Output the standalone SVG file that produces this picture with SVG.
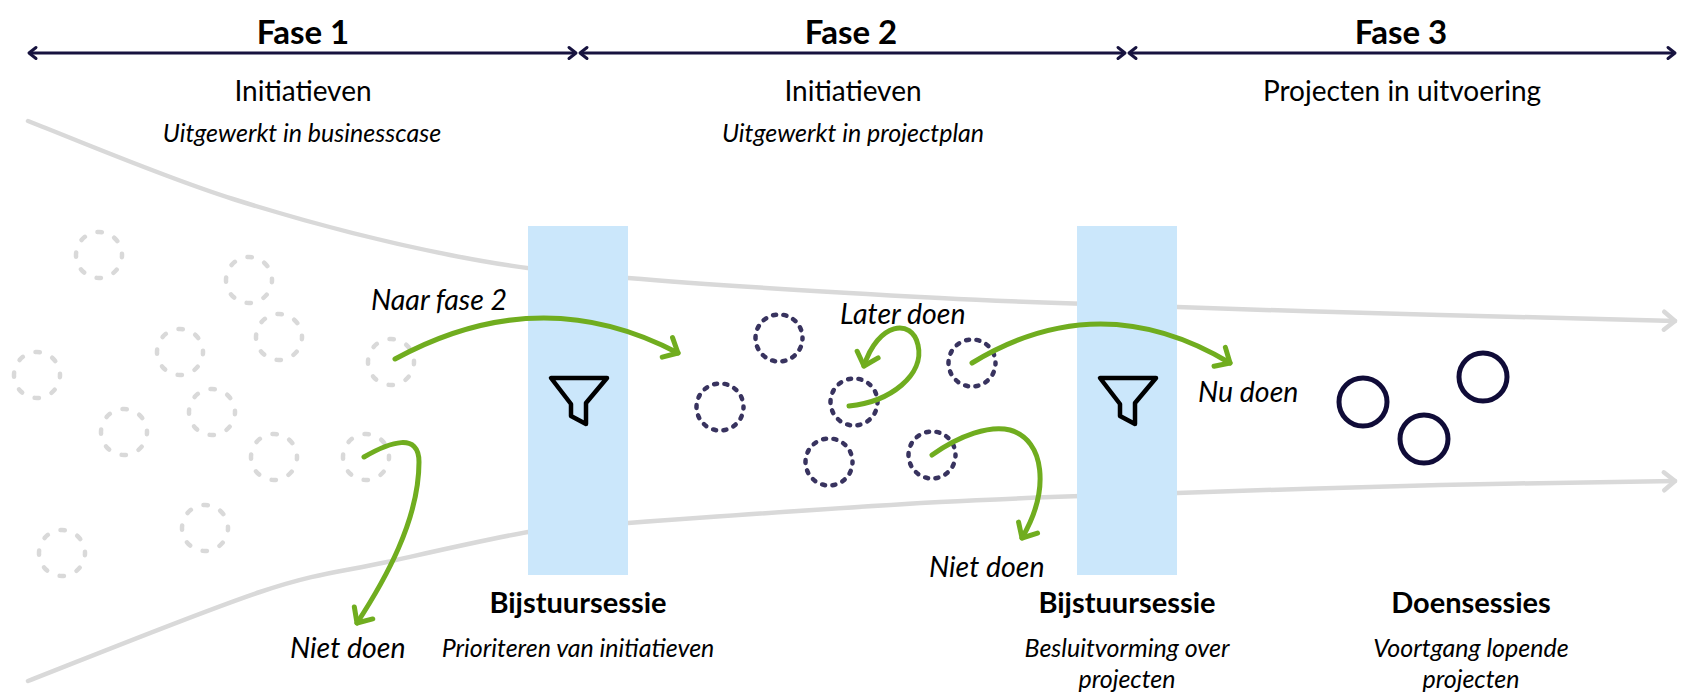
<svg xmlns="http://www.w3.org/2000/svg" width="1700" height="700" viewBox="0 0 1700 700">
<style>
text{font-family:Lato,"Liberation Sans",sans-serif;fill:#000}
.fase{font-size:33px;font-weight:bold;text-anchor:middle}
.sub{font-size:28px;text-anchor:middle}
.it{font-size:25px;font-style:italic;text-anchor:middle}
.lbl{font-size:28.5px;font-style:italic}
.bold{font-size:29px;font-weight:bold;text-anchor:middle}
.phase{stroke:#17133f;stroke-width:3;fill:none;marker-start:url(#hd);marker-end:url(#hd)}
.flow{stroke:#d9d9d9;stroke-width:4.5;fill:none;stroke-linecap:round;marker-end:url(#ga)}
.green{stroke:#70ad1f;stroke-width:5;fill:none;stroke-linecap:round;marker-end:url(#gr)}
.gate{fill:#cbe7fb}
.funnel{fill:none;stroke:#000;stroke-width:4.5;stroke-linejoin:round}
.lc{fill:none;stroke:#d9d9d9;stroke-width:4.5;stroke-linecap:round;stroke-dasharray:4.5 13.56;stroke-dashoffset:2.25}
.dc{fill:none;stroke:#38335f;stroke-width:4.5;stroke-linecap:round;stroke-dasharray:3 7.55;stroke-dashoffset:1.5}
.sc{fill:none;stroke:#100c38;stroke-width:5}
</style>
<defs>
<marker id="hd" markerUnits="userSpaceOnUse" viewBox="-10 -8 12 16" refX="0" refY="0" markerWidth="12" markerHeight="16" orient="auto-start-reverse" overflow="visible">
<path d="M-7,-5.5 L0,0 L-7,5.5" fill="none" stroke="#17133f" stroke-width="3" stroke-linecap="round" stroke-linejoin="round"/>
</marker>
<marker id="ga" markerUnits="userSpaceOnUse" viewBox="-14 -12 16 24" refX="0" refY="0" markerWidth="16" markerHeight="24" orient="auto" overflow="visible">
<path d="M-11,-9 L0,0 L-11,9" fill="none" stroke="#d9d9d9" stroke-width="4.5" stroke-linecap="round" stroke-linejoin="round"/>
</marker>
<marker id="gr" markerUnits="userSpaceOnUse" viewBox="-14 -14 16 28" refX="0" refY="0" markerWidth="16" markerHeight="28" orient="auto" overflow="visible">
<path d="M-12,-11 L0,0 L-12,11" fill="none" stroke="#70ad1f" stroke-width="5" stroke-linecap="round" stroke-linejoin="round"/>
</marker>
</defs>

<g id="phases">
<line class="phase" x1="29" y1="53" x2="576" y2="53"/>
<line class="phase" x1="580" y1="53" x2="1125" y2="53"/>
<line class="phase" x1="1129" y1="53" x2="1675" y2="53"/>
</g>

<g id="header-fase1">
<text class="fase" x="303" y="44">Fase 1</text>
<text class="sub" x="303" y="101">Initiatieven</text>
<text class="it" x="302" y="142">Uitgewerkt in businesscase</text>
</g>
<g id="header-fase2">
<text class="fase" x="851" y="44">Fase 2</text>
<text class="sub" x="853" y="101">Initiatieven</text>
<text class="it" x="853" y="142">Uitgewerkt in projectplan</text>
</g>
<g id="header-fase3">
<text class="fase" x="1401" y="44">Fase 3</text>
<text class="sub" x="1402" y="101">Projecten in uitvoering</text>
</g>

<g id="funnel-lines">
<path class="flow" d="M28,121 C62,134 163,177 233,199 C303,221 384,242 450,255 C516,268 546,271 628,278 C710,285 848,293 940,298 C1032,303 1094,304 1177,307 C1260,310 1357,313 1440,315 C1523,317 1636,320 1675,321"/>
<path class="flow" d="M28,681 C67,666 200,612 260,592 C320,572 342,572 387,562 C432,552 488,539 528,532 C568,526 559,528 628,523 C697,518 849,507 940,502 C1032,497 1094,496 1177,493 C1260,490 1357,487 1440,485 C1523,483 1636,482 1675,481"/>
</g>

<g id="initiatives-fase1">
<circle class="lc" cx="99" cy="255" r="23"/>
<circle class="lc" cx="249" cy="280" r="23"/>
<circle class="lc" cx="279" cy="337" r="23"/>
<circle class="lc" cx="180" cy="352" r="23"/>
<circle class="lc" cx="37" cy="375" r="23"/>
<circle class="lc" cx="391" cy="362" r="23"/>
<circle class="lc" cx="212" cy="412" r="23"/>
<circle class="lc" cx="124" cy="432" r="23"/>
<circle class="lc" cx="274" cy="457" r="23"/>
<circle class="lc" cx="366" cy="457" r="23"/>
<circle class="lc" cx="205" cy="528" r="23"/>
<circle class="lc" cx="62" cy="553" r="23"/>
</g>

<g id="gate1">
<rect class="gate" x="528" y="226" width="100" height="349"/>
<path class="funnel" d="M551,378 L607,378 L586,403 L586,424 L571,416 L571,404 Z"/>
<text class="bold" x="578" y="613">Bijstuursessie</text>
<text class="it" x="578" y="657">Prioriteren van initiatieven</text>
</g>

<g id="initiatives-fase2">
<circle class="dc" cx="779" cy="338" r="23.5"/>
<circle class="dc" cx="720" cy="407" r="23.5"/>
<circle class="dc" cx="854" cy="402" r="23.5"/>
<circle class="dc" cx="829" cy="462" r="23.5"/>
<circle class="dc" cx="932" cy="455" r="23.5"/>
<circle class="dc" cx="972" cy="363" r="23.5"/>
</g>

<g id="gate2">
<rect class="gate" x="1077" y="226" width="100" height="349"/>
<path class="funnel" transform="translate(549,0)" d="M551,378 L607,378 L586,403 L586,424 L571,416 L571,404 Z"/>
<text class="bold" x="1127" y="613">Bijstuursessie</text>
<text class="it" x="1127" y="657">Besluitvorming over</text>
<text class="it" x="1127" y="688">projecten</text>
</g>

<g id="projects-fase3">
<circle class="sc" cx="1363" cy="402" r="24"/>
<circle class="sc" cx="1424" cy="439" r="24"/>
<circle class="sc" cx="1483" cy="377" r="24"/>
<text class="bold" x="1471" y="613">Doensessies</text>
<text class="it" x="1471" y="657">Voortgang lopende</text>
<text class="it" x="1471" y="688">projecten</text>
</g>

<g id="connectors">
<path class="green" d="M395,359 Q540,280 678,353"/>
<path class="green" d="M364,457 C390,442 419,432 419,462 C419,520 385,580 357,623"/>
<path class="green" d="M849,406 C890,402 925,375 918,345 C912,318 878,322 864,366"/>
<path class="green" d="M972,363 Q1100,285 1230,363"/>
<path class="green" d="M932,455 C960,435 990,425 1010,430 C1045,440 1050,490 1022,538"/>
</g>

<g id="labels">
<text class="lbl" x="371" y="310">Naar fase 2</text>
<text class="lbl" x="840" y="324">Later doen</text>
<text class="lbl" x="1198" y="402">Nu doen</text>
<text class="lbl" x="929" y="577">Niet doen</text>
<text class="lbl" x="290" y="658">Niet doen</text>
</g>
</svg>
